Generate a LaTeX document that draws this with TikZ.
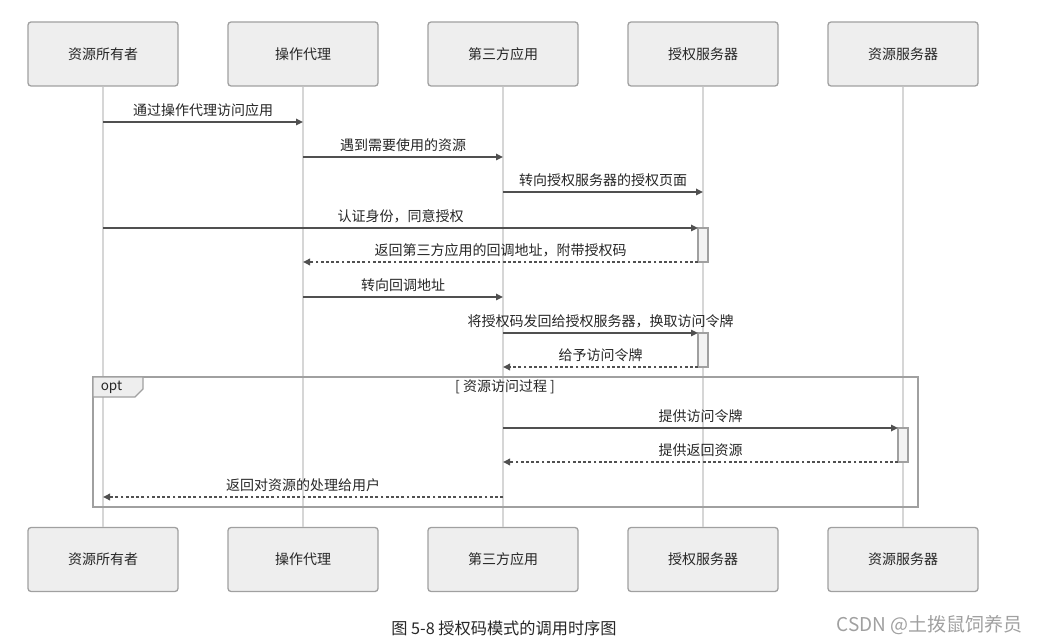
\documentclass[tikz,border=0pt]{standalone}
\usepackage{fontspec}
\usepackage{xcolor}
\usepackage{tikz}
\setmainfont{Noto Sans CJK SC}
\usetikzlibrary{arrows.meta}
\definecolor{boxfill}{HTML}{EEEEEE}
\definecolor{boxline}{HTML}{A0A0A0}
\definecolor{lifecol}{HTML}{D6D6D6}
\definecolor{msgcol}{HTML}{505050}
\definecolor{txtcol}{HTML}{262626}
\definecolor{markcol}{HTML}{A0A0A0}

\begin{document}
\begin{tikzpicture}[>={Triangle[length=7pt, width=6.5pt]}, x=1pt, y=-1pt,
    party/.style={draw=boxline, fill=boxfill, line width=1.3pt, rounded corners=3pt,
        minimum width=150pt, minimum height=64pt, text=txtcol, font=\fontsize{14}{16}\selectfont},
    life/.style={draw=lifecol, line width=1.3pt},
    act/.style={draw=boxline, fill=boxfill!70, line width=1.3pt, minimum width=10pt, minimum height=34pt, inner sep=0pt, outer sep=0pt},
    msg/.style={->, draw=msgcol, line width=1.6pt},
    reply/.style={msg, line width=1.8pt, dash pattern=on 2.8pt off 2.4pt},
    lbl/.style={above=1pt, text=txtcol, font=\fontsize{14}{16}\selectfont}]
    \useasboundingbox (0,0) rectangle (1039,644);
    % participants and lifelines
    \foreach \n/\x/\t in {owner/103/资源所有者, agent/303/操作代理, client/503/第三方应用, auth/703/授权服务器, res/903/资源服务器} {
        \node [party] (\n-t) at (\x,54) {\t};
        \node [party] (\n-b) at (\x,559.5) {\t};
        \draw [life] (\n-t) -- (\n-b);
    }
    % opt frame
    \draw [boxline, line width=1.6pt] (93,377) rectangle (918,507);
    \draw [boxline, fill=boxfill, line width=1.3pt] (93,377) -- (143,377) -- (143,389) -- (135,397) -- (93,397) -- cycle;
    \node [text=txtcol, font=\fontsize{13.5}{15}\selectfont] (opt) at (111.5,387) {opt};
    \node [text=txtcol, font=\fontsize{14}{16}\selectfont] (guard) at (505,387) {[ 资源访问过程 ]};
    % activations
    \node [act] (act1) at (703,245) {};
    \node [act] (act2) at (703,350) {};
    \node [act] (act3) at (903,445) {};
    % messages
    \foreach \y/\a/\b/\t in {122/owner/agent/通过操作代理访问应用, 157/agent/client/遇到需要使用的资源, 192/client/auth/转向授权服务器的授权页面, 297/agent/client/转向回调地址}
        \draw [msg] (\a-t |- 0,\y) -- node [lbl] {\t} (\b-t |- 0,\y);
    \draw [msg] (owner-t |- act1.north west) -- node [lbl] {认证身份，同意授权} (act1.north west);
    \draw [reply] (act1.south west) -- node [lbl] {返回第三方应用的回调地址，附带授权码} (agent-t |- act1.south west);
    \draw [msg] (client-t |- act2.north west) -- node [lbl] {将授权码发回给授权服务器，换取访问令牌} (act2.north west);
    \draw [reply] (act2.south west) -- node [lbl] {给予访问令牌} (client-t |- act2.south west);
    \draw [msg] (client-t |- act3.north west) -- node [lbl] {提供访问令牌} (act3.north west);
    \draw [reply] (act3.south west) -- node [lbl] {提供返回资源} (client-t |- act3.south west);
    \draw [reply] (client-t |- 0,497) -- node [lbl] {返回对资源的处理给用户} (owner-t |- 0,497);
    % caption
    \node [text=txtcol, font=\fontsize{16.2}{18}\selectfont] (cap) at (504,628) {图 5-8 授权码模式的调用时序图};
    \node [anchor=east, text=markcol, font=\fontsize{19}{21}\selectfont] (mark) at (1026,625) {CSDN @土拨鼠饲养员};
\end{tikzpicture}
\end{document}
